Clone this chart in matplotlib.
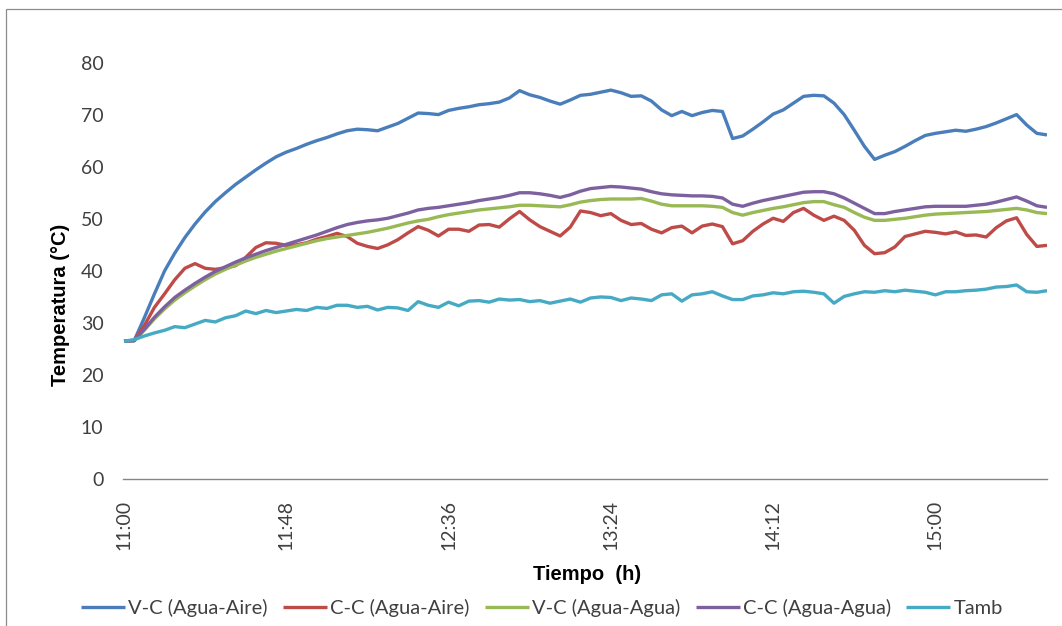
import numpy as np
import matplotlib
matplotlib.use("Agg")
import matplotlib.pyplot as plt
from matplotlib.patches import Rectangle

# Sampling grid: minutes elapsed since 11:00, one reading every 3 minutes
minutes = np.arange(0, 274, 3)

tick_minutes = [0, 48, 96, 144, 192, 240]
tick_labels = ["11:00", "11:48", "12:36", "13:24", "14:12", "15:00"]
y_ticks = [0, 10, 20, 30, 40, 50, 60, 70, 80]

series_names = ["V-C (Agua-Aire)", "C-C (Agua-Aire)", "V-C (Agua-Agua)",
                "C-C (Agua-Agua)", "Tamb"]
series_colors = ["#4A7EBB", "#BE4B48", "#98B954", "#7D60A0", "#46AAC5"]

vc_agua_aire = [
    26.5, 26.6, 31.0, 35.6, 40.0, 43.4, 46.4, 49.0, 51.3, 53.3,
    55.0, 56.6, 58.0, 59.4, 60.7, 61.9, 62.8, 63.5, 64.3, 65.0,
    65.6, 66.3, 66.9, 67.2, 67.1, 66.9, 67.6, 68.3, 69.3, 70.3,
    70.2, 70.0, 70.8, 71.2, 71.5, 71.9, 72.1, 72.4, 73.2, 74.6,
    73.8, 73.3, 72.6, 72.0, 72.8, 73.7, 73.9, 74.3, 74.7, 74.2,
    73.5, 73.6, 72.6, 70.9, 69.8, 70.6, 69.8, 70.4, 70.8, 70.6,
    65.4, 65.9, 67.2, 68.6, 70.1, 70.9, 72.2, 73.5, 73.7, 73.6,
    72.2, 70.0, 67.0, 63.9, 61.4, 62.2, 62.9, 63.9, 65.0, 66.0,
    66.4, 66.7, 67.0, 66.8, 67.2, 67.7, 68.4, 69.2, 70.0, 68.0,
    66.4, 66.1,
]

cc_agua_aire = [
    26.5, 26.7, 29.5, 33.0, 35.6, 38.3, 40.5, 41.4, 40.5, 40.3,
    40.6, 41.0, 42.6, 44.5, 45.4, 45.3, 44.9, 45.0, 45.4, 46.1,
    46.6, 47.2, 46.6, 45.3, 44.7, 44.3, 45.0, 46.0, 47.3, 48.5,
    47.8, 46.7, 48.0, 48.0, 47.6, 48.8, 48.9, 48.4, 50.0, 51.4,
    49.8, 48.5, 47.6, 46.7, 48.4, 51.5, 51.2, 50.6, 51.0, 49.7,
    48.9, 49.1, 48.0, 47.3, 48.3, 48.6, 47.3, 48.6, 49.0, 48.5,
    45.2, 45.8, 47.6, 49.0, 50.1, 49.5, 51.2, 52.0, 50.7, 49.7,
    50.5, 49.7, 47.8, 44.9, 43.3, 43.5, 44.6, 46.6, 47.1, 47.6,
    47.4, 47.1, 47.5, 46.8, 46.9, 46.5, 48.3, 49.6, 50.2, 47.0,
    44.7, 44.9,
]

vc_agua_agua = [
    26.5, 26.6, 28.6, 30.8, 32.7, 34.4, 35.8, 37.1, 38.3, 39.4,
    40.3, 41.1, 41.9, 42.6, 43.2, 43.8, 44.3, 44.8, 45.3, 45.8,
    46.2, 46.5, 46.8, 47.1, 47.4, 47.8, 48.2, 48.7, 49.2, 49.6,
    49.9, 50.4, 50.8, 51.1, 51.4, 51.7, 51.9, 52.1, 52.3, 52.6,
    52.6, 52.5, 52.4, 52.3, 52.7, 53.2, 53.5, 53.7, 53.8, 53.8,
    53.8, 53.9, 53.4, 52.8, 52.5, 52.5, 52.5, 52.5, 52.4, 52.2,
    51.2, 50.7, 51.2, 51.6, 52.0, 52.3, 52.7, 53.1, 53.3, 53.3,
    52.7, 52.2, 51.2, 50.3, 49.7, 49.7, 49.9, 50.1, 50.4, 50.7,
    50.9, 51.0, 51.1, 51.2, 51.3, 51.4, 51.6, 51.8, 52.0, 51.7,
    51.2, 51.0,
]

cc_agua_agua = [
    26.5, 26.6, 28.8, 31.1, 33.1, 34.9, 36.3, 37.6, 38.8, 39.9,
    40.8, 41.7, 42.5, 43.2, 43.9, 44.5, 45.1, 45.7, 46.3, 46.9,
    47.6, 48.3, 48.9, 49.3, 49.6, 49.8, 50.1, 50.6, 51.1, 51.7,
    52.0, 52.2, 52.5, 52.8, 53.1, 53.5, 53.8, 54.1, 54.5, 55.0,
    55.0, 54.8, 54.5, 54.1, 54.6, 55.3, 55.8, 56.0, 56.2, 56.1,
    55.9, 55.7, 55.2, 54.8, 54.6, 54.5, 54.4, 54.4, 54.3, 54.0,
    52.8, 52.4, 53.0, 53.5, 53.9, 54.3, 54.7, 55.1, 55.2, 55.2,
    54.8, 54.0, 53.0, 52.0, 51.0, 51.0, 51.4, 51.7, 52.0, 52.3,
    52.4, 52.4, 52.4, 52.4, 52.6, 52.8, 53.2, 53.7, 54.2, 53.4,
    52.5, 52.2,
]

tamb = [
    26.5, 26.8, 27.5, 28.1, 28.6, 29.3, 29.1, 29.8, 30.5, 30.2,
    31.0, 31.4, 32.3, 31.8, 32.4, 32.0, 32.3, 32.6, 32.4, 33.0,
    32.8, 33.4, 33.4, 33.0, 33.2, 32.5, 33.0, 32.9, 32.4, 34.1,
    33.4, 33.0, 34.0, 33.3, 34.2, 34.3, 34.0, 34.6, 34.4, 34.5,
    34.1, 34.3, 33.8, 34.2, 34.6, 34.0, 34.8, 35.0, 34.9, 34.3,
    34.8, 34.6, 34.3, 35.4, 35.6, 34.2, 35.4, 35.6, 36.0, 35.2,
    34.5, 34.5, 35.2, 35.4, 35.8, 35.6, 36.0, 36.1, 35.9, 35.6,
    33.8, 35.1, 35.6, 36.0, 35.9, 36.2, 36.0, 36.3, 36.1, 35.9,
    35.4, 36.0, 36.0, 36.2, 36.3, 36.5, 36.9, 37.0, 37.3, 36.0,
    35.9, 36.2,
]

all_series = [vc_agua_aire, cc_agua_aire, vc_agua_agua, cc_agua_agua, tamb]

W, H, DPI = 1062, 626, 100
fig = plt.figure(figsize=(W / DPI, H / DPI), dpi=DPI)
fig.patch.set_facecolor("white")

# Outer chart border (runs off the right and bottom edges)
fig.patches.append(Rectangle((6 / W, -0.2), 1.2, 1 - 9 / H + 0.2,
                             transform=fig.transFigure, fill=False,
                             edgecolor="#8C8C8C", linewidth=0.9))

left, right, top, bottom = 123, 1047, 62.5, 479.3
ax = fig.add_axes([left / W, 1 - bottom / H, (right - left) / W, (bottom - top) / H])

for vals, name, col in zip(all_series, series_names, series_colors):
    ax.plot(minutes, vals, color=col, linewidth=2.4, label=name,
            solid_joinstyle="round", solid_capstyle="butt")

ax.set_xlim(-0.3, 273)
ax.set_ylim(0, 80)

for side in ("top", "right", "left"):
    ax.spines[side].set_visible(False)
ax.spines["bottom"].set_color("#868686")
ax.spines["bottom"].set_linewidth(1.0)

tick_font = dict(family="Lato", size=14, color="#404040")
ax.set_yticks(y_ticks)
ax.set_yticklabels([str(v) for v in y_ticks], fontdict=tick_font)
ax.set_xticks(tick_minutes)
ax.set_xticklabels(tick_labels, fontdict=tick_font, rotation=90)
ax.tick_params(axis="y", length=0, pad=14)
ax.tick_params(axis="x", length=0, pad=15)

title_font = dict(family="Liberation Sans", weight="bold", size=14.5, color="black")
fig.text(587 / W, 1 - 575 / H, "Tiempo  (h)", ha="center", va="center", **title_font)
fig.text(60 / W, 1 - 305 / H, "Temperatura (°C)", ha="center", va="center",
         rotation=90, **title_font)

leg = fig.legend(loc="center", bbox_to_anchor=(542 / W, 1 - 608 / H), ncol=5,
                 frameon=False, handlelength=2.2, handletextpad=0.15,
                 columnspacing=0.75, prop={"family": "Lato", "size": 14.5})
for txt in leg.get_texts():
    txt.set_color("#404040")

fig.savefig("out.png", dpi=DPI, facecolor="white")
